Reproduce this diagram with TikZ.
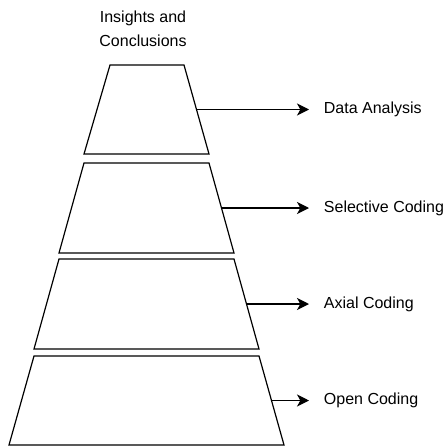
\documentclass[tikz,border=0pt]{standalone}
\usepackage{fontspec}
\setmainfont{Liberation Sans}
\usetikzlibrary{arrows.meta}

\begin{document}
\begin{tikzpicture}[x=0.75pt,y=0.75pt,yscale=-1,
  level/.style={draw, line width=0.9pt, line join=miter},
  stage/.style={anchor=west, inner xsep=11pt, font=\fontsize{12}{14.4}\selectfont},
  arrow/.style={line width=0.9pt, -{Stealth[length=9pt,width=9pt,inset=2.5pt]}}]

\useasboundingbox (0,0) rectangle (446,446);

% title over the pyramid
\node[align=center, inner sep=0pt, font=\fontsize{12}{18}\selectfont] (top) at (143,29) {Insights and\\Conclusions};

% the four levels, narrowest on top
\draw[level] (110,65) -- (184,65) -- (209,154) -- (84,154) -- cycle;
\coordinate (analysis) at (196.5,109.5);
\draw[level] (84,163) -- (209,163) -- (234,253) -- (59,253) -- cycle;
\coordinate (selective) at (221.5,208);
\draw[level] (59,259) -- (234,259) -- (259,349) -- (34,349) -- cycle;
\coordinate (axial) at (246.5,304);
\draw[level] (34,356) -- (259,356) -- (284,445) -- (9,445) -- cycle;
\coordinate (open) at (271.5,400.5);

% stage names on the right
\node[stage] (lbl1) at (309,109.5) {Data Analysis};
\node[stage] (lbl2) at (309,208) {Selective Coding};
\node[stage] (lbl3) at (309,304) {Axial Coding};
\node[stage] (lbl4) at (309,400.5) {Open Coding};

\draw[arrow] (analysis)  -- (lbl1.west);
\draw[arrow] (selective) -- (lbl2.west);
\draw[arrow] (axial)     -- (lbl3.west);
\draw[arrow] (open)      -- (lbl4.west);
\end{tikzpicture}
\end{document}
